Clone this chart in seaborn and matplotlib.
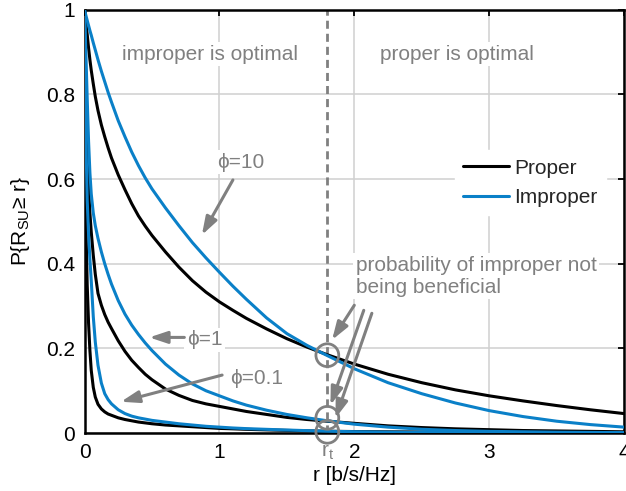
import numpy as np
import pandas as pd
import matplotlib
matplotlib.use('Agg')
import matplotlib.pyplot as plt
import seaborn as sns

# rate grid (b/s/Hz) and the values
r_grid = [0, 0.005, 0.01, 0.02, 0.03, 0.04, 0.05, 0.065, 0.08, 0.1, 0.125, 0.15, 0.175, 0.2,
          0.25, 0.3, 0.35, 0.4, 0.45, 0.5, 0.6, 0.7, 0.8, 0.9, 1.0, 1.1, 1.2, 1.35, 1.5,
          1.65, 1.8, 2.0, 2.25, 2.5, 2.75, 3.0, 3.25, 3.5, 3.75, 4.0]

proper_phi10 = [1, 0.985, 0.97, 0.942, 0.91, 0.882, 0.857, 0.825, 0.795, 0.762, 0.728, 0.70,
                0.674, 0.65, 0.61, 0.575, 0.542, 0.513, 0.489, 0.467, 0.428, 0.392, 0.36,
                0.333, 0.31, 0.29, 0.271, 0.246, 0.223, 0.203, 0.185, 0.163, 0.139, 0.119,
                0.102, 0.088, 0.076, 0.065, 0.055, 0.046]
improper_phi10 = [1, 0.993, 0.987, 0.975, 0.963, 0.951, 0.94, 0.922, 0.905, 0.882, 0.855, 0.83,
                  0.805, 0.782, 0.738, 0.70, 0.664, 0.632, 0.603, 0.577, 0.532, 0.49, 0.45,
                  0.414, 0.38, 0.347, 0.316, 0.272, 0.235, 0.207, 0.183, 0.152, 0.119, 0.093,
                  0.071, 0.053, 0.039, 0.028, 0.02, 0.014]
proper_phi1 = [1, 0.9, 0.81, 0.67, 0.58, 0.52, 0.475, 0.42, 0.375, 0.33, 0.302, 0.28, 0.262,
               0.247, 0.218, 0.193, 0.172, 0.155, 0.139, 0.126, 0.104, 0.089, 0.077, 0.069,
               0.063, 0.057, 0.051, 0.044, 0.037, 0.032, 0.028, 0.023, 0.017, 0.013, 0.01,
               0.008, 0.006, 0.005, 0.004, 0.003]
improper_phi1 = [1, 0.95, 0.9, 0.79, 0.69, 0.615, 0.565, 0.52, 0.49, 0.46, 0.428, 0.4, 0.375,
                 0.352, 0.313, 0.281, 0.255, 0.233, 0.213, 0.195, 0.163, 0.137, 0.116, 0.1,
                 0.088, 0.076, 0.066, 0.054, 0.044, 0.036, 0.029, 0.021, 0.014, 0.009, 0.006,
                 0.004, 0.003, 0.002, 0.0015, 0.001]
proper_phi01 = [1, 0.62, 0.5, 0.35, 0.26, 0.195, 0.148, 0.108, 0.085, 0.068, 0.057, 0.05,
                0.045, 0.042, 0.036, 0.032, 0.029, 0.026, 0.024, 0.022, 0.019, 0.017, 0.015,
                0.013, 0.011, 0.01, 0.0088, 0.0075, 0.0063, 0.0052, 0.0043, 0.0036, 0.003,
                0.0025, 0.0022, 0.002, 0.0018, 0.0015, 0.0012, 0.001]
improper_phi01 = [1, 0.82, 0.7, 0.55, 0.47, 0.41, 0.36, 0.275, 0.215, 0.16, 0.118, 0.093,
                  0.079, 0.069, 0.055, 0.046, 0.04, 0.036, 0.033, 0.03, 0.026, 0.022, 0.019,
                  0.016, 0.014, 0.012, 0.0105, 0.0088, 0.0072, 0.0057, 0.0043, 0.0032, 0.0022,
                  0.0016, 0.0012, 0.001, 0.0008, 0.0007, 0.0006, 0.0005]

r_t = 1.8
crossing_p = [0.184, 0.036, 0.003]

BLUE = '#0a80c8'
GRAY = '#808080'

frames = []
for phi, scheme, vals in [(10, 'Proper', proper_phi10), (10, 'Improper', improper_phi10),
                          (1, 'Proper', proper_phi1), (1, 'Improper', improper_phi1),
                          (0.1, 'Proper', proper_phi01), (0.1, 'Improper', improper_phi01)]:
    frames.append(pd.DataFrame({'r': r_grid, 'P': vals, 'phi': phi, 'scheme': scheme}))
df = pd.concat(frames, ignore_index=True)

sns.set_theme(style='whitegrid')
plt.rcParams['font.family'] = ['Liberation Sans', 'DejaVu Sans']
plt.rcParams['mathtext.default'] = 'regular'

fig = plt.figure(figsize=(6.26, 4.91), dpi=100)
ax = fig.add_axes([0.135, 0.118, 0.862, 0.862])

sns.lineplot(data=df, x='r', y='P', hue='scheme', units='phi', estimator=None, sort=False,
             palette={'Proper': 'black', 'Improper': BLUE}, linewidth=2.2, ax=ax, zorder=3)

ax.set_xlim(0, 4)
ax.set_ylim(0, 1)
ax.set_xticks([0, 1, 2, 3, 4])
ax.set_yticks([0, 0.2, 0.4, 0.6, 0.8, 1])
ax.set_yticklabels(['0', '0.2', '0.4', '0.6', '0.8', '1'])
ax.set_facecolor('white')
ax.grid(True, color='#d0d0d0', linewidth=1.1)
ax.set_axisbelow(True)
for s in ax.spines.values():
    s.set_color('black')
    s.set_linewidth(1.8)
ax.tick_params(direction='in', top=True, right=True, length=4, width=1.3,
               labelsize=15, colors='black', pad=7)
ax.set_xlabel('r [b/s/Hz]', fontsize=15, color='black', labelpad=3)
ax.set_ylabel('P{R$_{SU}$≥ r}', fontsize=15, color='black', labelpad=10)

# legend
handles, labels = ax.get_legend_handles_labels()
leg = ax.legend(handles, labels, loc='upper left', bbox_to_anchor=(0.686, 0.668),
                fontsize=15, frameon=True, fancybox=False, framealpha=1,
                borderpad=0.4, borderaxespad=0, handlelength=2.2, handletextpad=0.25,
                labelspacing=0.5)
leg.get_frame().set_facecolor('white')
leg.get_frame().set_edgecolor('white')
for h in leg.get_lines():
    h.set_linewidth(2.2)

# threshold line and marks
ax.axvline(r_t, color=GRAY, linewidth=2, linestyle=(0, (2.9, 1.8)), zorder=2)
ax.scatter([r_t] * len(crossing_p), crossing_p, s=270, facecolors='none',
           edgecolors=GRAY, linewidths=2, zorder=4, clip_on=False)
ax.text(r_t, -0.022, 'r$_t$', transform=ax.get_xaxis_transform(), ha='center', va='top',
        color=GRAY, fontsize=15)

box = dict(facecolor='white', edgecolor='none', pad=2)
ax.text(0.93, 0.895, 'improper is optimal', ha='center', va='center', color=GRAY,
        fontsize=15, bbox=box, zorder=1.5)
ax.text(2.76, 0.895, 'proper is optimal', ha='center', va='center', color=GRAY,
        fontsize=15, bbox=box, zorder=1.5)

arrow = dict(arrowstyle='-|>,head_length=0.54,head_width=0.18', color=GRAY, lw=2.2,
             shrinkA=0, shrinkB=0, mutation_scale=20)
ax.text(1.155, 0.64, 'ϕ=10', ha='center', va='center', color=GRAY, fontsize=15,
        bbox=box, zorder=1.5)
ax.annotate('', xy=(0.87, 0.468), xytext=(1.10, 0.598), arrowprops=arrow)
ax.text(0.89, 0.22, 'ϕ=1', ha='center', va='center', color=GRAY, fontsize=15,
        bbox=box, zorder=1.5)
ax.annotate('', xy=(0.48, 0.226), xytext=(0.74, 0.226), arrowprops=arrow)
ax.text(1.275, 0.13, 'ϕ=0.1', ha='center', va='center', color=GRAY, fontsize=15,
        bbox=box, zorder=1.5)
ax.annotate('', xy=(0.27, 0.074), xytext=(1.02, 0.137), arrowprops=arrow)

ax.text(2.01, 0.371, 'probability of improper not\nbeing beneficial', ha='left', va='center',
        color=GRAY, fontsize=15, linespacing=1.2, bbox=box, zorder=1.5)
ax.annotate('', xy=(1.835, 0.22), xytext=(2.0, 0.302), arrowprops=arrow)
ax.annotate('', xy=(1.823, 0.066), xytext=(2.07, 0.29), arrowprops=arrow)
ax.annotate('', xy=(1.86, 0.035), xytext=(2.13, 0.283), arrowprops=arrow)

fig.savefig('out.png', dpi=100)
